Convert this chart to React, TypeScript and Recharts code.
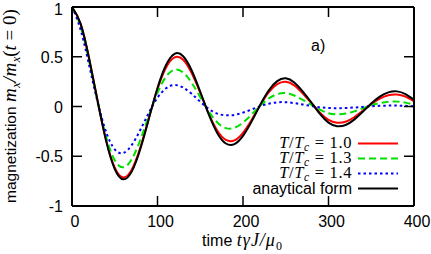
import React from 'react';
import { Legend, Line, LineChart, XAxis, YAxis } from 'recharts';

// time t*gamma*J/mu0, sampled every 10
const times = [
  0, 10, 20, 30, 40, 50, 60, 70, 80, 90, 100, 110, 120, 130, 140, 150, 160, 170, 180, 190, 200,
  210, 220, 230, 240, 250, 260, 270, 280, 290, 300, 310, 320, 330, 340, 350, 360, 370, 380, 390, 400,
];

// magnetization m_x / m_x(t=0)
const analytic = [
  1, 0.833, 0.484, 0.054, -0.348, -0.628, -0.732, -0.652, -0.425, -0.119, 0.186, 0.417, 0.53, 0.505,
  0.362, 0.148, -0.08, -0.268, -0.372, -0.378, -0.295, -0.152, 0.014, 0.16, 0.255, 0.283, 0.242, 0.15,
  0.04, -0.075, -0.162, -0.198, -0.186, -0.132, -0.053, 0.03, 0.1, 0.142, 0.152, 0.125, 0.068,
];
const tc10 = [
  1, 0.832, 0.482, 0.053, -0.342, -0.614, -0.713, -0.632, -0.41, -0.114, 0.176, 0.392, 0.494, 0.47,
  0.335, 0.137, -0.074, -0.243, -0.336, -0.34, -0.264, -0.135, 0.012, 0.141, 0.224, 0.248, 0.212, 0.13,
  0.034, -0.062, -0.135, -0.163, -0.153, -0.108, -0.043, 0.024, 0.08, 0.114, 0.121, 0.1, 0.052,
];
const tc13 = [
  1, 0.808, 0.456, 0.049, -0.309, -0.541, -0.611, -0.529, -0.334, -0.091, 0.138, 0.3, 0.37, 0.342,
  0.238, 0.094, -0.05, -0.161, -0.217, -0.214, -0.162, -0.081, 0.007, 0.08, 0.124, 0.134, 0.111, 0.067,
  0.017, -0.031, -0.067, -0.078, -0.071, -0.049, -0.019, 0.011, 0.034, 0.047, 0.049, 0.039, 0.02,
];
const tc14 = [
  1, 0.773, 0.417, 0.043, -0.258, -0.431, -0.467, -0.386, -0.233, -0.061, 0.088, 0.183, 0.216, 0.19,
  0.127, 0.048, -0.024, -0.072, -0.088, -0.084, -0.062, -0.03, 0.003, 0.028, 0.042, 0.043, 0.034, 0.02,
  0.005, -0.008, -0.015, -0.017, -0.015, -0.01, -0.004, 0.002, 0.007, 0.009, 0.009, 0.007, 0.003,
];

const xTicks = [0, 100, 200, 300, 400];
const yTicks = [-1, -0.5, 0, 0.5, 1];

const data = times.map((t, i) => ({
  t,
  tc10: tc10[i],
  tc13: tc13[i],
  tc14: tc14[i],
  analytic: analytic[i],
}));

const SANS = '"Liberation Sans", Arial, sans-serif';
const SERIF = '"Liberation Serif", "Times New Roman", serif';

const series = [
  { key: 'tc10', ratio: '1.0', color: '#ff0000', dash: undefined },
  { key: 'tc13', ratio: '1.3', color: '#00e000', dash: '7 4' },
  { key: 'tc14', ratio: '1.4', color: '#0000ff', dash: '2.5 3' },
  { key: 'analytic', ratio: null, color: '#000000', dash: undefined },
];

const XTick = ({ x, payload }: any) => (
  <text x={x + 3} y={227} textAnchor="middle" fontFamily={SANS} fontSize={16} fill="#000">
    {payload.value}
  </text>
);

const YTick = ({ y, payload }: any) => (
  <text x={63} y={y + 6} textAnchor="end" fontFamily={SANS} fontSize={16} fill="#000">
    {payload.value}
  </text>
);

const NoTick = () => <g />;

const RatioLabel = ({ v }: { v: string }) => (
  <span style={{ fontFamily: SERIF, fontSize: 16.5, letterSpacing: 0.6, lineHeight: '15px' }}>
    <i>T</i>/<i>T</i>
    <i style={{ fontSize: 11.5, position: 'relative', top: 3.5 }}>c</i>
    <span style={{ margin: '0 5px' }}>=</span>
    {v}
  </span>
);

const renderLegend = () => (
  <div style={{ width: 170 }}>
    {series.map(s => (
      <div key={s.key} style={{ display: 'flex', alignItems: 'center', height: 15 }}>
        <div style={{ width: 112, textAlign: 'right', lineHeight: '15px', whiteSpace: 'nowrap' }}>
          {s.ratio ? (
            <RatioLabel v={s.ratio} />
          ) : (
            <span style={{ fontFamily: SANS, fontSize: 16, lineHeight: '15px' }}>anaytical form</span>
          )}
        </div>
        <svg width={46} height={15}>
          <line x1={6} x2={46} y1={7.5} y2={7.5} stroke={s.color} strokeWidth={2} strokeDasharray={s.dash} />
        </svg>
      </div>
    ))}
  </div>
);

export default function App() {
  return (
    <div style={{ position: 'absolute', left: 0, top: 0 }}>
      <LineChart width={431} height={254} data={data} margin={{ top: 6, right: 16, bottom: 0, left: 0 }}>
        <XAxis
          dataKey="t"
          type="number"
          domain={[0, 400]}
          ticks={xTicks}
          height={48}
          tick={XTick}
          tickSize={-10}
          axisLine={{ stroke: '#000', strokeWidth: 2 }}
          tickLine={{ stroke: '#000', strokeWidth: 1.5 }}
        />
        <XAxis
          xAxisId="top"
          orientation="top"
          dataKey="t"
          type="number"
          domain={[0, 400]}
          allowDataOverflow
          ticks={xTicks}
          height={1}
          tick={NoTick}
          tickSize={-10}
          axisLine={{ stroke: '#000', strokeWidth: 2 }}
          tickLine={{ stroke: '#000', strokeWidth: 1.5 }}
        />
        <YAxis
          type="number"
          domain={[-1, 1]}
          ticks={yTicks}
          width={72}
          tick={YTick}
          tickSize={-10}
          axisLine={{ stroke: '#000', strokeWidth: 2 }}
          tickLine={{ stroke: '#000', strokeWidth: 1.5 }}
        />
        <YAxis
          yAxisId="right"
          orientation="right"
          type="number"
          domain={[-1, 1]}
          allowDataOverflow
          ticks={yTicks}
          width={1}
          tick={NoTick}
          tickSize={-10}
          axisLine={{ stroke: '#000', strokeWidth: 2 }}
          tickLine={{ stroke: '#000', strokeWidth: 1.5 }}
        />
        {series.map(s => (
          <Line
            key={s.key}
            type="natural"
            dataKey={s.key}
            stroke={s.color}
            strokeWidth={2}
            strokeDasharray={s.dash}
            dot={false}
            activeDot={false}
            isAnimationActive={false}
          />
        ))}
        <Legend
          layout="vertical"
          align="center"
          verticalAlign="middle"
          content={renderLegend}
          wrapperStyle={{ position: 'absolute', left: 240, top: 135.5, width: 170 }}
        />
        <text x={311} y={51} fontFamily={SANS} fontSize={16} fill="#000">
          a)
        </text>
        <text x={242} y={246} textAnchor="middle" fontFamily={SANS} fontSize={16} fill="#000">
          time{' '}
          <tspan fontFamily={SERIF} fontStyle="italic" fontSize={18} letterSpacing={1}>
            tγJ/μ
          </tspan>
          <tspan fontFamily={SERIF} fontSize={12} dy={4}>
            0
          </tspan>
        </text>
        <text
          transform="translate(16,106) rotate(-90)"
          textAnchor="middle"
          fontFamily={SANS}
          fontSize={15.5}
          fill="#000"
        >
          magnetization{' '}
          <tspan fontFamily={SERIF} fontStyle="italic" fontSize={19} letterSpacing={0.5}>m</tspan>
          <tspan fontFamily={SERIF} fontStyle="italic" fontSize={12.5} dy={4}>x</tspan>
          <tspan fontFamily={SERIF} fontStyle="italic" fontSize={19} dy={-4} letterSpacing={0.5}>/m</tspan>
          <tspan fontFamily={SERIF} fontStyle="italic" fontSize={12.5} dy={4}>x</tspan>
          <tspan fontFamily={SERIF} fontSize={19} dy={-4}>(</tspan>
          <tspan fontFamily={SERIF} fontStyle="italic" fontSize={19}>t</tspan>
          <tspan fontFamily={SERIF} fontSize={19}> = 0)</tspan>
        </text>
      </LineChart>
    </div>
  );
}
